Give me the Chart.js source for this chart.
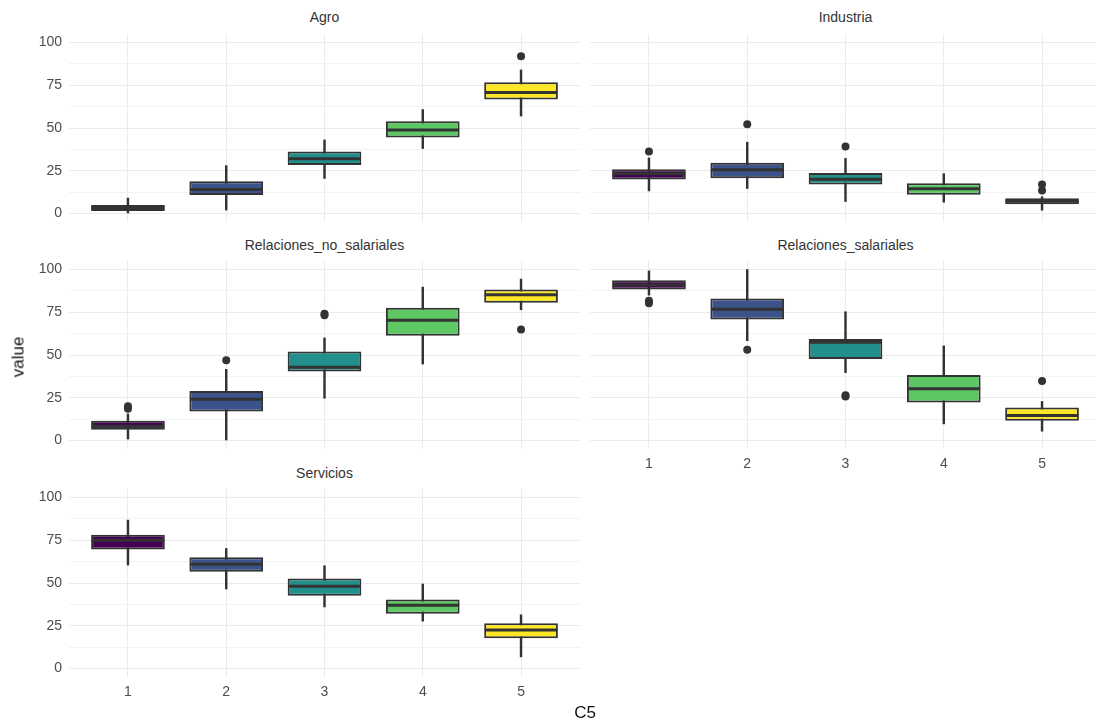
<!DOCTYPE html>
<html>
<head>
<meta charset="utf-8">
<script src="https://cdn.jsdelivr.net/npm/chart.js@4.4.1/dist/chart.umd.min.js"></script>
<style>
html,body{margin:0;padding:0;background:#ffffff;overflow:hidden;width:1096px;height:724px;}
#wrap{position:relative;width:1096px;height:724px;overflow:hidden;font-family:"Liberation Sans",Arial,sans-serif;}
#wrap canvas{position:absolute;}
.strip{position:absolute;transform:translate(-50%,-50%);font-size:14px;color:#333333;white-space:nowrap;line-height:1;}
.axtitle{position:absolute;transform:translate(-50%,-50%);font-size:17px;font-weight:normal;color:#111;white-space:nowrap;line-height:1;}
.ylab{transform:translate(-50%,-50%) rotate(-90deg);}
</style>
</head>
<body>
<div id="wrap"></div>
<script>
// ---------- data ----------
const categories = [1, 2, 3, 4, 5];
const facets = ['Agro', 'Industria', 'Relaciones_no_salariales', 'Relaciones_salariales', 'Servicios'];
const yTicks = [0, 25, 50, 75, 100];
const yMinorTicks = [12.5, 37.5, 62.5, 87.5];
const xTitle = 'C5';
const yTitle = 'value';

// per facet, per category (C5 = 1..5)
const whiskerLow = [
  [0, 2, 20.5, 38, 57],
  [13.2, 14.6, 7, 6.6, 1.9],
  [0.8, 0, 24.7, 44.7, 76.5],
  [85, 58.4, 39.7, 9.7, 5.4],
  [60.5, 46.5, 36, 27.7, 6.8]
];
const q1 = [
  [1.5, 10.8, 28.3, 44.5, 66.7],
  [19.8, 20.6, 16.9, 10.9, 5.4],
  [6.2, 16.9, 40.4, 61.2, 80.6],
  [88.3, 70.8, 47.7, 22.2, 11.5],
  [69.6, 56.6, 42.6, 32, 17.6]
];
const median = [
  [3, 14, 32, 48.8, 70.7],
  [23.3, 25.6, 20, 14.4, 7.2],
  [8.3, 24.1, 42.9, 70.3, 85.2],
  [90.9, 76.7, 57.4, 30.2, 14.6],
  [75, 60.9, 48.1, 37, 22.5]
];
const q3 = [
  [5, 18.8, 36.3, 54, 76.7],
  [25.8, 29.7, 23.7, 17.7, 8.9],
  [11.5, 28.9, 52, 77.7, 88.3],
  [93.8, 83.1, 59.3, 38.3, 19.3],
  [78.3, 65.1, 52.7, 40.3, 26.4]
];
const whiskerHigh = [
  [9, 28, 43, 60.8, 84],
  [32.5, 41.7, 32.2, 23.3, 9.8],
  [15.5, 41.6, 60, 89.7, 94.4],
  [99.2, 100, 75.3, 55.3, 22.8],
  [86.8, 70.2, 60.1, 49.4, 31.4]
];
// outliers: [category, value]
const outliers = [
  [[5, 92]],
  [[1, 36.3], [2, 52.2], [3, 39.2], [5, 17], [5, 13.4]],
  [[1, 20], [1, 18.5], [2, 47], [3, 74.2], [3, 73.2], [5, 64.9]],
  [[1, 81.8], [1, 80.3], [2, 53], [3, 26.5], [3, 25.7], [5, 34.8]],
  []
];

// ---------- styling / layout ----------
const fills = ['#440154', '#3B528B', '#21908C', '#5DC863', '#FDE725'];
const ink = '#333333';
const FONT = '"Liberation Sans", Arial, sans-serif';
const panels = [
  {left: 0,   top: 34,  w: 580, h: 188, axisW: 69, showY: true,  showX: false, stripX: 324.5, stripY: 17},
  {left: 590, top: 34,  w: 511, h: 188, axisW: 0,  showY: false, showX: false, stripX: 845.5, stripY: 17},
  {left: 0,   top: 261, w: 580, h: 188, axisW: 69, showY: true,  showX: false, stripX: 324.5, stripY: 245},
  {left: 590, top: 261, w: 511, h: 218, axisW: 0,  showY: false, showX: true,  stripX: 845.5, stripY: 245},
  {left: 0,   top: 489, w: 580, h: 218, axisW: 69, showY: true,  showX: true,  stripX: 324.5, stripY: 473}
];

const wrap = document.getElementById('wrap');

function addText(cls, txt, x, y) {
  const d = document.createElement('div');
  d.className = cls;
  d.textContent = txt;
  d.style.left = x + 'px';
  d.style.top = y + 'px';
  wrap.appendChild(d);
}

const allYTicks = yTicks.concat(yMinorTicks).sort((a, b) => a - b);

facets.forEach((name, f) => {
  const p = panels[f];
  const cv = document.createElement('canvas');
  cv.width = p.w; cv.height = p.h;
  cv.style.left = p.left + 'px'; cv.style.top = p.top + 'px';
  cv.style.width = p.w + 'px'; cv.style.height = p.h + 'px';
  wrap.appendChild(cv);
  addText('strip', name, p.stripX, p.stripY);

  const whiskerData = categories.map((c, i) => ({x: c, y: [whiskerLow[f][i], whiskerHigh[f][i]]}));
  const boxData = categories.map((c, i) => ({x: c, y: [q1[f][i], q3[f][i]]}));
  const medData = categories.map((c, i) => ({x: c, y: median[f][i]}));
  const outData = outliers[f].map(o => ({x: o[0], y: o[1]}));

  new Chart(cv, {
    type: 'bar',
    data: {
      datasets: [
        {
          type: 'bar', label: 'whisker', data: whiskerData, grouped: false,
          backgroundColor: ink, borderWidth: 0, barThickness: 1.8, order: 3
        },
        {
          type: 'bar', label: 'box', data: boxData, grouped: false,
          backgroundColor: fills, borderColor: ink, borderWidth: 2, borderSkipped: false,
          categoryPercentage: 0.75, barPercentage: 1, order: 2
        },
        {
          type: 'scatter', label: 'median', data: medData, pointStyle: 'line',
          radius: ctx => {
            const xs = ctx.chart.scales.x;
            return Math.abs(xs.getPixelForValue(1.375) - xs.getPixelForValue(1)) - 0.5;
          },
          borderColor: ink, borderWidth: 3, order: 1
        },
        {
          type: 'scatter', label: 'outlier', data: outData, pointStyle: 'circle',
          radius: 4, backgroundColor: ink, borderWidth: 0, order: 0
        }
      ]
    },
    options: {
      responsive: false,
      animation: false,
      events: [],
      layout: {padding: 0, autoPadding: false},
      plugins: {legend: {display: false}, tooltip: {enabled: false}, title: {display: false}},
      scales: {
        x: {
          type: 'linear', min: 0.4, max: 5.6, offset: false,
          afterBuildTicks: ax => { ax.ticks = categories.map(v => ({value: v})); },
          ticks: {
            display: p.showX, autoSkip: false, maxRotation: 0, padding: 7,
            color: '#4d4d4d', font: {family: FONT, size: 14},
            callback: v => String(v)
          },
          grid: {drawTicks: false, offset: false, color: '#ebebeb', lineWidth: 1},
          border: {display: false},
          afterFit: ax => {
            ax.height = p.showX ? 30 : 0;
            ax.paddingLeft = 0; ax.paddingRight = 0; ax.paddingTop = 0; ax.paddingBottom = 0;
          }
        },
        y: {
          type: 'linear', min: -5, max: 105,
          afterBuildTicks: ax => { ax.ticks = allYTicks.map(v => ({value: v})); },
          ticks: {
            display: p.showY, autoSkip: false, padding: 7,
            color: '#4d4d4d', font: {family: FONT, size: 14},
            callback: v => (yTicks.includes(v) ? String(v) : '')
          },
          grid: {
            drawTicks: false,
            color: ctx => (ctx.tick && yTicks.includes(ctx.tick.value) ? '#ebebeb' : '#f3f3f3'),
            lineWidth: 1
          },
          border: {display: false},
          afterFit: ax => {
            ax.width = p.axisW;
            ax.paddingLeft = 0; ax.paddingRight = 0; ax.paddingTop = 0; ax.paddingBottom = 0;
          }
        }
      }
    }
  });
});

addText('axtitle ylab', yTitle, 18, 357);
addText('axtitle', xTitle, 585, 712);
</script>
</body>
</html>
